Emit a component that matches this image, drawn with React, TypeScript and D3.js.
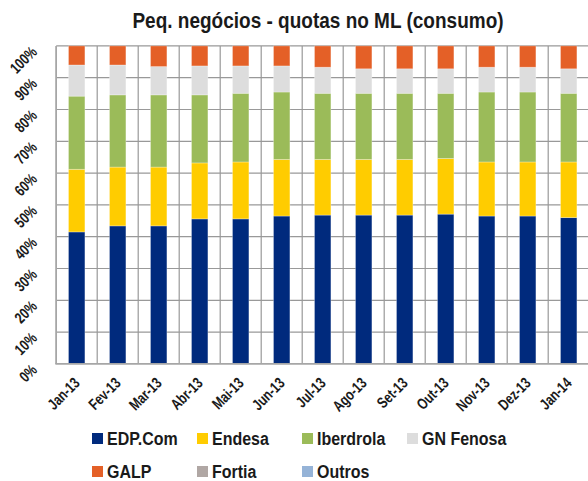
import React, { useEffect, useRef } from 'react';
import * as d3 from 'd3';

const months = ['Jan-13', 'Fev-13', 'Mar-13', 'Abr-13', 'Mai-13', 'Jun-13', 'Jul-13', 'Ago-13', 'Set-13', 'Out-13', 'Nov-13', 'Dez-13', 'Jan-14'];
const companies = ['EDP.Com', 'Endesa', 'Iberdrola', 'GN Fenosa', 'GALP', 'Fortia', 'Outros'];
const colors = ['#002a7d', '#ffcc00', '#9bbb59', '#dddddd', '#e46027', '#b0a7a4', '#95b3d7'];

// quotas (%)
const edp = [41.5, 43.4, 43.4, 45.6, 45.6, 46.5, 46.8, 46.8, 46.8, 47.1, 46.5, 46.5, 46.0];
const endesa = [19.7, 18.5, 18.5, 17.6, 17.9, 17.8, 17.5, 17.5, 17.5, 17.5, 17.0, 17.0, 17.5];
const iberdrola = [23.0, 22.7, 22.7, 21.4, 21.6, 21.2, 20.8, 20.8, 20.8, 20.5, 22.0, 22.0, 21.6];
const gnFenosa = [9.8, 9.4, 8.9, 9.1, 8.6, 8.2, 8.2, 7.7, 7.7, 7.7, 7.8, 7.8, 7.7];
const galp = [6.0, 6.0, 6.5, 6.3, 6.3, 6.3, 6.7, 7.2, 7.2, 7.2, 6.7, 6.7, 7.2];
const fortia = [0, 0, 0, 0, 0, 0, 0, 0, 0, 0, 0, 0, 0];
const outros = [0, 0, 0, 0, 0, 0, 0, 0, 0, 0, 0, 0, 0];
const yTicks = [0, 10, 20, 30, 40, 50, 60, 70, 80, 90, 100];

const W = 588;
const H = 481;
const font = '"Liberation Sans", Arial, sans-serif';

const App = () => {
  const ref = useRef(null);

  useEffect(() => {
    const series = [edp, endesa, iberdrola, gnFenosa, galp, fortia, outros];
    const rows = months.map((m, i) => {
      const r: any = { month: m };
      companies.forEach((c, k) => { r[c] = series[k][i]; });
      return r;
    });

    const x = d3.scaleBand().domain(months).range([56.2, 589.2]).paddingInner(0.6).paddingOuter(0.3);
    const y = d3.scaleLinear().domain([0, 100]).range([363.9, 45.9]);
    const color = d3.scaleOrdinal<string>().domain(companies).range(colors);
    const stacked = d3.stack().keys(companies)(rows);

    const root = d3.select(ref.current);
    root.selectAll('*').remove();
    const svg = root.append('svg')
      .attr('width', W)
      .attr('height', H)
      .style('position', 'absolute')
      .style('left', 0)
      .style('top', 0)
      .style('background', '#fff');

    // title (slightly tall, like the original)
    svg.append('text')
      .attr('transform', 'translate(318,28) scale(1,1.15)')
      .attr('text-anchor', 'middle')
      .style('font-family', font)
      .style('font-weight', 'bold')
      .style('font-size', '19px')
      .attr('fill', '#1a1a1a')
      .text('Peq. negócios - quotas no ML (consumo)');

    const half = (x.step() - x.bandwidth()) / 2;
    const bounds = months.map(m => (x(m) as number) - half).concat([(x(months[months.length - 1]) as number) + x.bandwidth() + half]);

    // grid
    svg.append('g').selectAll('line')
      .data(yTicks.slice(1))
      .enter().append('line')
      .attr('x1', 56.2).attr('x2', W)
      .attr('y1', d => y(d)).attr('y2', d => y(d))
      .attr('stroke', '#999999').attr('stroke-width', 1.2);
    svg.append('g').selectAll('line')
      .data(bounds)
      .enter().append('line')
      .attr('x1', d => d).attr('x2', d => d)
      .attr('y1', y(100)).attr('y2', y(0))
      .attr('stroke', '#999999').attr('stroke-width', 1.2);

    // bars
    svg.append('g').selectAll('g')
      .data(stacked)
      .enter().append('g')
      .attr('fill', d => color(d.key))
      .selectAll('rect')
      .data(d => d.map((v, i) => ({ v, m: months[i] })))
      .enter().append('rect')
      .attr('x', d => x(d.m) as number)
      .attr('width', x.bandwidth())
      .attr('y', d => y(d.v[1]))
      .attr('height', d => y(d.v[0]) - y(d.v[1]))
      .attr('stroke', '#ffffff')
      .attr('stroke-opacity', 0.35)
      .attr('stroke-width', 0.8);

    // axis lines
    svg.append('line')
      .attr('x1', 56.2).attr('x2', 56.2).attr('y1', y(100)).attr('y2', y(0))
      .attr('stroke', '#a6a6a6').attr('stroke-width', 1.6);
    svg.append('line')
      .attr('x1', 55.4).attr('x2', W).attr('y1', y(0)).attr('y2', y(0))
      .attr('stroke', '#a6a6a6').attr('stroke-width', 1.6);

    // y labels
    svg.append('g').selectAll('text')
      .data(yTicks)
      .enter().append('text')
      .attr('transform', d => `translate(38,${y(d) + 7}) rotate(-45) scale(0.92,1.2)`)
      .attr('text-anchor', 'end')
      .style('font-family', font)
      .style('font-weight', 'bold')
      .style('font-size', '13px')
      .attr('fill', '#1a1a1a')
      .text(d => `${d}%`);

    // x labels
    svg.append('g').selectAll('text')
      .data(months)
      .enter().append('text')
      .attr('transform', d => `translate(${(x(d) as number) + x.bandwidth() / 2 + 4},${384}) rotate(-45) scale(0.92,1.2)`)
      .attr('text-anchor', 'end')
      .style('font-family', font)
      .style('font-weight', 'bold')
      .style('font-size', '13px')
      .attr('fill', '#1a1a1a')
      .text(d => d);

    // legend
    const legend = svg.append('g').selectAll('g')
      .data(companies)
      .enter().append('g')
      .attr('transform', (d, i) => `translate(${92 + (i % 4) * 105},${i < 4 ? 433 : 466})`);
    legend.append('rect')
      .attr('width', 11).attr('height', 11)
      .attr('fill', d => color(d));
    legend.append('text')
      .attr('transform', 'translate(15,11.5) scale(1,1.1)')
      .style('font-family', font)
      .style('font-weight', 'bold')
      .style('font-size', '16px')
      .attr('fill', '#1a1a1a')
      .text(d => d);

    return () => {
      root.selectAll('*').remove();
    };
  }, []);

  return <div ref={ref}></div>;
};

export default App;
